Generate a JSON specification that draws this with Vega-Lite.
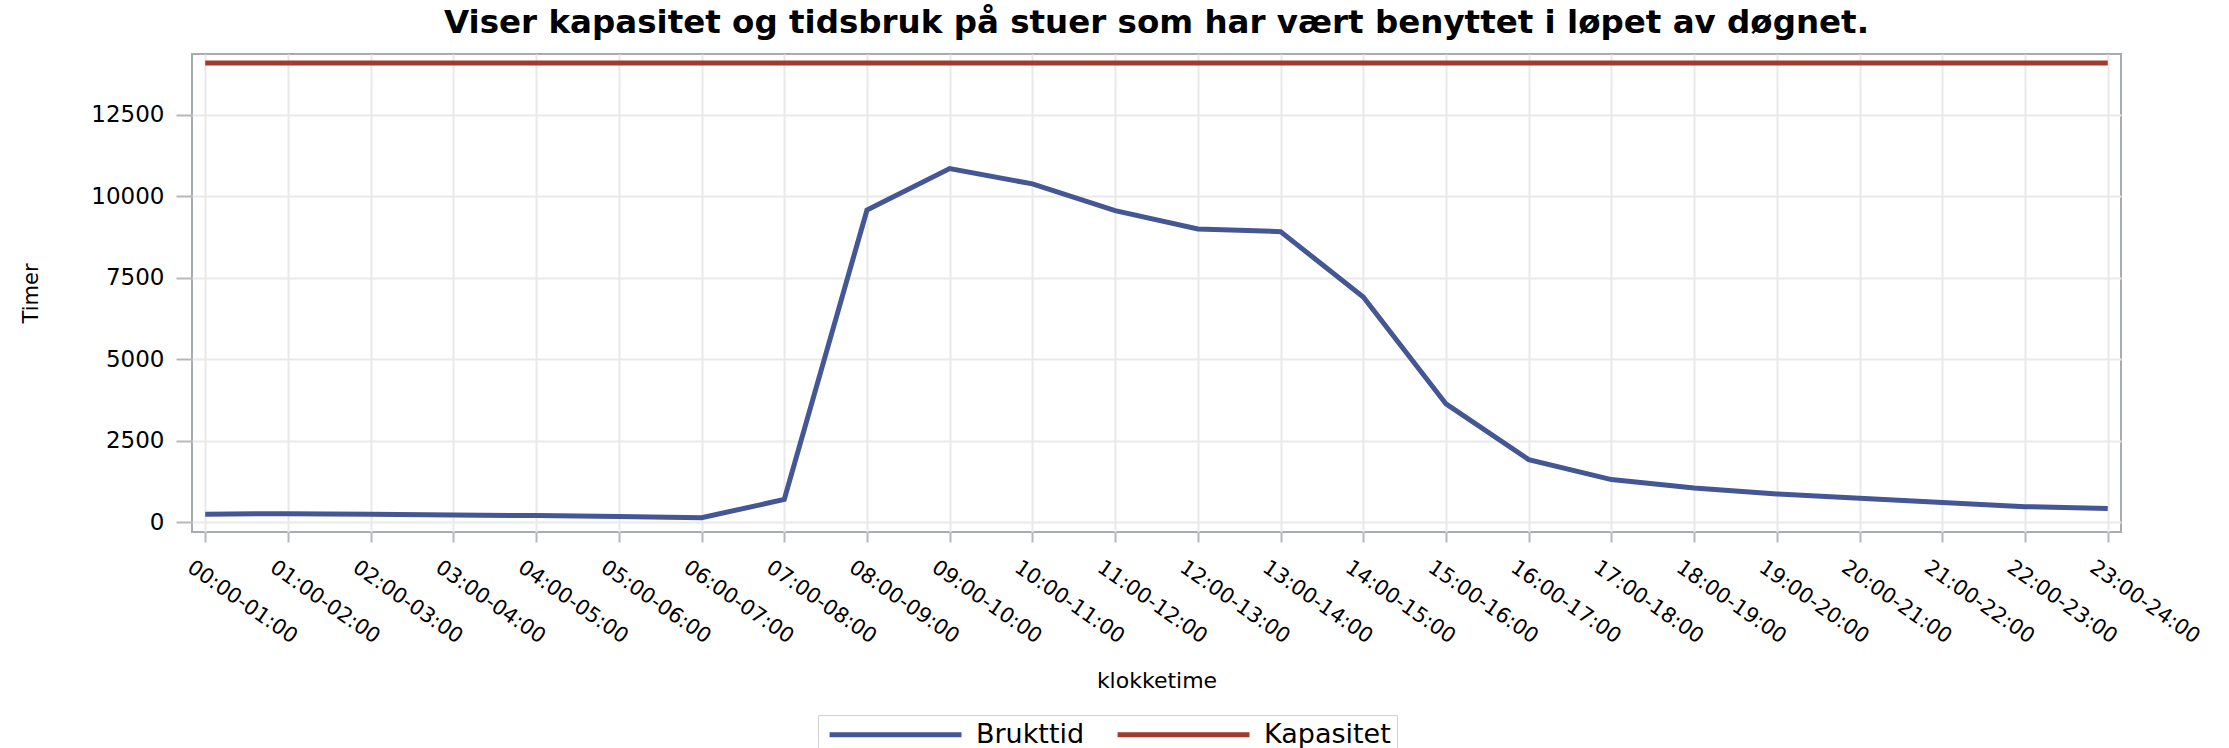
{
  "$schema": "https://vega.github.io/schema/vega-lite/v6.json",
  "width": 1929,
  "height": 478,
  "autosize": {"type": "none"},
  "padding": {"left": 192, "top": 54, "right": 108, "bottom": 216},
  "background": "white",
  "title": {
    "text": "Viser kapasitet og tidsbruk på stuer som har vært benyttet i løpet av døgnet.",
    "font": "DejaVu Sans",
    "fontSize": 32.5,
    "fontWeight": "bold",
    "color": "#000000",
    "anchor": "middle",
    "offset": 13
  },
  "data": {
    "values": [
      {"klokketime": "00:00-01:00", "serie": "Brukttid", "timer": 250},
      {"klokketime": "01:00-02:00", "serie": "Brukttid", "timer": 265},
      {"klokketime": "02:00-03:00", "serie": "Brukttid", "timer": 245},
      {"klokketime": "03:00-04:00", "serie": "Brukttid", "timer": 225},
      {"klokketime": "04:00-05:00", "serie": "Brukttid", "timer": 205},
      {"klokketime": "05:00-06:00", "serie": "Brukttid", "timer": 175},
      {"klokketime": "06:00-07:00", "serie": "Brukttid", "timer": 140},
      {"klokketime": "07:00-08:00", "serie": "Brukttid", "timer": 700},
      {"klokketime": "08:00-09:00", "serie": "Brukttid", "timer": 9580},
      {"klokketime": "09:00-10:00", "serie": "Brukttid", "timer": 10850},
      {"klokketime": "10:00-11:00", "serie": "Brukttid", "timer": 10380},
      {"klokketime": "11:00-12:00", "serie": "Brukttid", "timer": 9560},
      {"klokketime": "12:00-13:00", "serie": "Brukttid", "timer": 8995},
      {"klokketime": "13:00-14:00", "serie": "Brukttid", "timer": 8915},
      {"klokketime": "14:00-15:00", "serie": "Brukttid", "timer": 6910},
      {"klokketime": "15:00-16:00", "serie": "Brukttid", "timer": 3630},
      {"klokketime": "16:00-17:00", "serie": "Brukttid", "timer": 1920},
      {"klokketime": "17:00-18:00", "serie": "Brukttid", "timer": 1310},
      {"klokketime": "18:00-19:00", "serie": "Brukttid", "timer": 1050},
      {"klokketime": "19:00-20:00", "serie": "Brukttid", "timer": 870},
      {"klokketime": "20:00-21:00", "serie": "Brukttid", "timer": 740},
      {"klokketime": "21:00-22:00", "serie": "Brukttid", "timer": 610},
      {"klokketime": "22:00-23:00", "serie": "Brukttid", "timer": 480},
      {"klokketime": "23:00-24:00", "serie": "Brukttid", "timer": 425},
      {"klokketime": "00:00-01:00", "serie": "Kapasitet", "timer": 14090},
      {"klokketime": "01:00-02:00", "serie": "Kapasitet", "timer": 14090},
      {"klokketime": "02:00-03:00", "serie": "Kapasitet", "timer": 14090},
      {"klokketime": "03:00-04:00", "serie": "Kapasitet", "timer": 14090},
      {"klokketime": "04:00-05:00", "serie": "Kapasitet", "timer": 14090},
      {"klokketime": "05:00-06:00", "serie": "Kapasitet", "timer": 14090},
      {"klokketime": "06:00-07:00", "serie": "Kapasitet", "timer": 14090},
      {"klokketime": "07:00-08:00", "serie": "Kapasitet", "timer": 14090},
      {"klokketime": "08:00-09:00", "serie": "Kapasitet", "timer": 14090},
      {"klokketime": "09:00-10:00", "serie": "Kapasitet", "timer": 14090},
      {"klokketime": "10:00-11:00", "serie": "Kapasitet", "timer": 14090},
      {"klokketime": "11:00-12:00", "serie": "Kapasitet", "timer": 14090},
      {"klokketime": "12:00-13:00", "serie": "Kapasitet", "timer": 14090},
      {"klokketime": "13:00-14:00", "serie": "Kapasitet", "timer": 14090},
      {"klokketime": "14:00-15:00", "serie": "Kapasitet", "timer": 14090},
      {"klokketime": "15:00-16:00", "serie": "Kapasitet", "timer": 14090},
      {"klokketime": "16:00-17:00", "serie": "Kapasitet", "timer": 14090},
      {"klokketime": "17:00-18:00", "serie": "Kapasitet", "timer": 14090},
      {"klokketime": "18:00-19:00", "serie": "Kapasitet", "timer": 14090},
      {"klokketime": "19:00-20:00", "serie": "Kapasitet", "timer": 14090},
      {"klokketime": "20:00-21:00", "serie": "Kapasitet", "timer": 14090},
      {"klokketime": "21:00-22:00", "serie": "Kapasitet", "timer": 14090},
      {"klokketime": "22:00-23:00", "serie": "Kapasitet", "timer": 14090},
      {"klokketime": "23:00-24:00", "serie": "Kapasitet", "timer": 14090}
    ]
  },
  "mark": {"type": "line", "strokeWidth": 5},
  "encoding": {
    "x": {
      "field": "klokketime",
      "type": "ordinal",
      "sort": null,
      "scale": {"type": "point", "padding": 0.16},
      "axis": {
        "title": "klokketime",
        "titleFont": "DejaVu Sans",
        "titleFontSize": 22,
        "titleFontWeight": "normal",
        "titleColor": "#000000",
        "titleBaseline": "alphabetic",
        "titleAlign": "center",
        "titleY": 155,
        "labelFont": "DejaVu Sans",
        "labelFontSize": 21,
        "labelColor": "#000000",
        "labelAngle": 35,
        "labelAlign": "left",
        "labelBaseline": "top",
        "labelOffset": -10,
        "labelPadding": 14,
        "labelOverlap": false,
        "labelBound": false,
        "tickSize": 10,
        "tickWidth": 2,
        "tickColor": "#b4b8bc",
        "domain": false,
        "grid": true,
        "gridColor": "#e9e9e9",
        "gridWidth": 2
      }
    },
    "y": {
      "field": "timer",
      "type": "quantitative",
      "scale": {"domain": [-298, 14364], "nice": false, "zero": false},
      "axis": {
        "title": "Timer",
        "titleFont": "DejaVu Sans",
        "titleFontSize": 21,
        "titleFontWeight": "normal",
        "titleColor": "#000000",
        "titleAngle": 270,
        "titleBaseline": "alphabetic",
        "titleAlign": "center",
        "titleX": -155,
        "titleY": 239,
        "values": [0, 2500, 5000, 7500, 10000, 12500],
        "format": "d",
        "labelFont": "DejaVu Sans",
        "labelFontSize": 23,
        "labelColor": "#000000",
        "labelPadding": 12,
        "tickSize": 16,
        "tickWidth": 2,
        "tickColor": "#b4b8bc",
        "domain": false,
        "grid": true,
        "gridColor": "#e9e9e9",
        "gridWidth": 2
      }
    },
    "color": {
      "field": "serie",
      "type": "nominal",
      "scale": {"domain": ["Brukttid", "Kapasitet"], "range": ["#445694", "#A23A2E"]},
      "legend": {
        "title": null,
        "orient": "none",
        "direction": "horizontal",
        "legendX": 626,
        "legendY": 661,
        "padding": 6,
        "strokeColor": "#d2d2d2",
        "symbolType": "M-1.2,0H18.8",
        "symbolSize": 174,
        "symbolStrokeWidth": 5,
        "labelFont": "DejaVu Sans",
        "labelFontSize": 27,
        "labelColor": "#000000",
        "labelOffset": 125,
        "columnPadding": 22
      }
    }
  },
  "config": {
    "view": {"stroke": "#a7acb0", "strokeWidth": 2}
  }
}
